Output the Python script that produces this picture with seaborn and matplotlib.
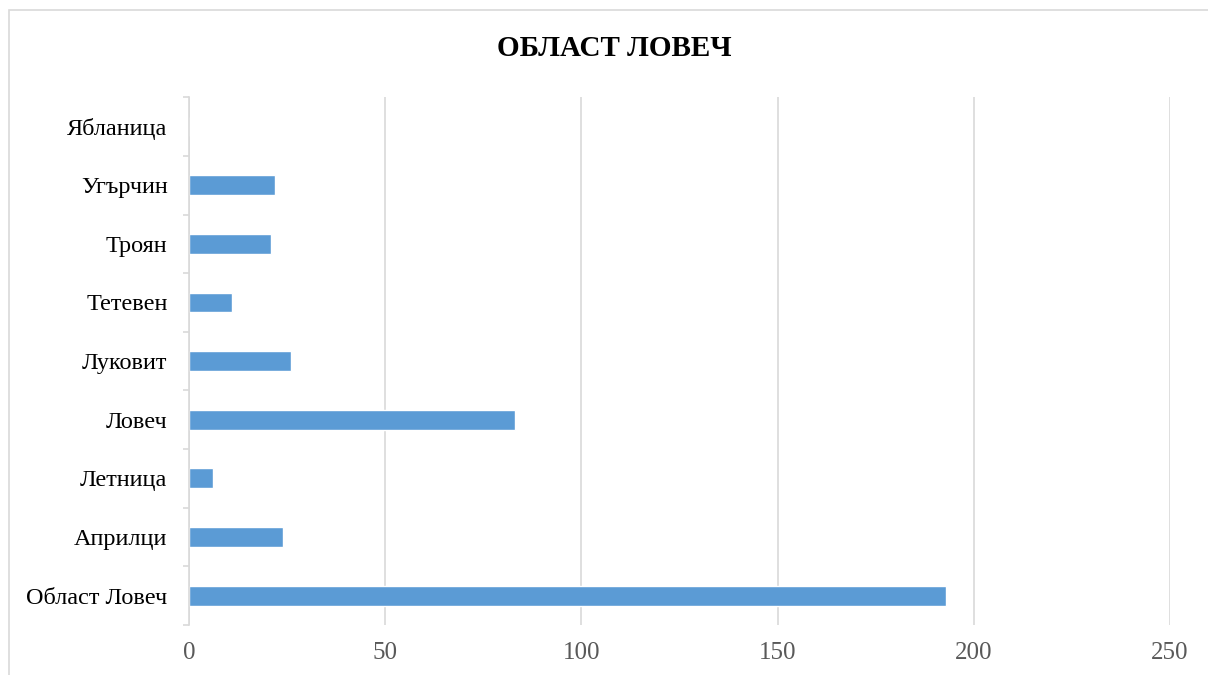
import matplotlib
matplotlib.use('Agg')
import matplotlib.pyplot as plt
import seaborn as sns
import pandas as pd
from matplotlib.patches import Rectangle
from matplotlib.ticker import FixedLocator

# bottom -> top, as in the chart
categories = ['Област Ловеч', 'Априлци', 'Летница', 'Ловеч', 'Луковит',
              'Тетевен', 'Троян', 'Угърчин', 'Ябланица']
values = [193, 24, 6, 83, 26, 11, 21, 22, 0]
x_ticks = [0, 50, 100, 150, 200, 250]

# seaborn draws first category at top for horizontal bars -> reverse
df = pd.DataFrame({'area': categories[::-1], 'count': values[::-1]})

sns.set_style('white')
plt.rcParams['font.family'] = ['Liberation Serif', 'DejaVu Serif']

fig = plt.figure(figsize=(12.08, 6.75), dpi=100)
ax = fig.add_axes([0.1565, 0.074, 0.812, 0.782])

sns.barplot(data=df, x='count', y='area', color='#5B9BD5', width=0.34,
            saturation=1, ax=ax)

ax.set_xlim(0, 250)
ax.set_ylim(len(categories) - 0.5, -0.5)
ax.set_xticks(x_ticks)
ax.xaxis.grid(True, color='#D9D9D9', linewidth=1.2)
ax.set_axisbelow(True)
for s in ['top', 'right', 'bottom']:
    ax.spines[s].set_visible(False)
ax.spines['left'].set_color('#D9D9D9')
ax.spines['left'].set_linewidth(1.2)

ax.tick_params(axis='x', length=0, labelsize=18, labelcolor='#595959', pad=12)
ax.tick_params(axis='y', which='major', length=0, labelsize=17.5,
               labelcolor='#000000', pad=15.5)
ax.yaxis.set_minor_locator(FixedLocator([i - 0.5 for i in range(len(categories) + 1)]))
ax.tick_params(axis='y', which='minor', left=True, length=4, width=1.2,
               color='#D9D9D9')
ax.set_xlabel('')
ax.set_ylabel('')

fig.text(614 / 1208, 1 - 48 / 675, 'ОБЛАСТ ЛОВЕЧ', ha='center', va='center',
         fontsize=21, fontweight='bold', color='#000000')

fig.patches.append(Rectangle((9 / 1208, -0.05), 1.1, 1 - 10 / 675 + 0.05,
                             transform=fig.transFigure, fill=False,
                             edgecolor='#D9D9D9', linewidth=1.2))

fig.savefig('out.png', dpi=100)
